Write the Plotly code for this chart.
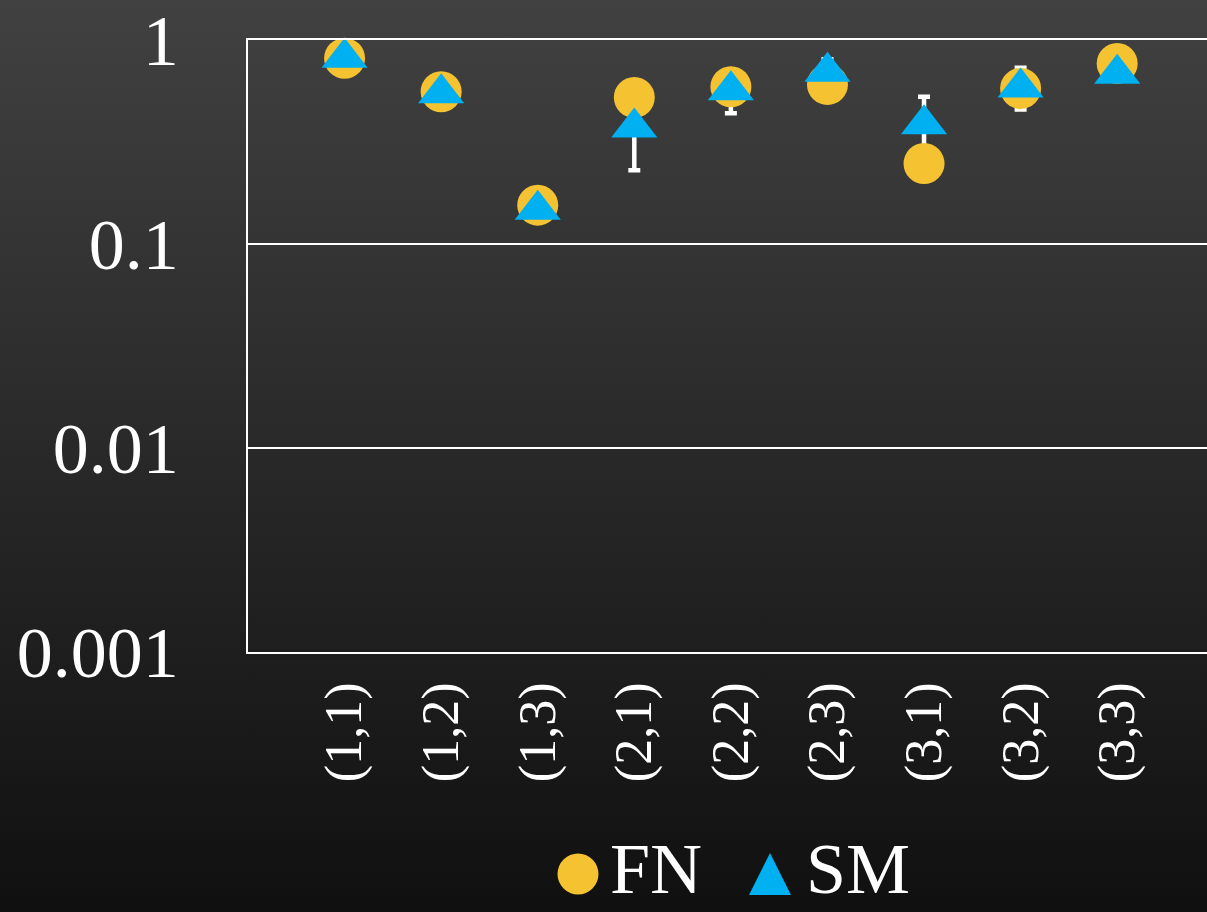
import base64
import plotly.graph_objects as go

# Category pairs and measured values
categories = ["(1,1)", "(1,2)", "(1,3)", "(2,1)", "(2,2)", "(2,3)", "(3,1)", "(3,2)", "(3,3)"]
fn_values = [0.813, 0.558, 0.155, 0.523, 0.590, 0.606, 0.248, 0.579, 0.768]
sm_values = [0.818, 0.548, 0.147, 0.372, 0.567, 0.698, 0.386, 0.585, 0.684]
sm_err_plus = [0, 0, 0, 0.142, 0.130, 0.106, 0.141, 0.146, 0]
sm_err_minus = [0, 0, 0, 0.142, 0.130, 0.106, 0.141, 0.128, 0]
y_tickvals = [1, 0.1, 0.01, 0.001]
y_ticktext = ["1", "0.1", "0.01", "0.001"]

W, H = 1207, 912
ML, MR, MT, MB = 248, 0, 40, 260
PW, PH = W - ML - MR, H - MT - MB

FN_COLOR = "#F5C232"
SM_COLOR = "#00B0F0"
FONT = "Liberation Serif, Times New Roman, serif"

fig = go.Figure()

# error bars sit beneath both marker series
fig.add_trace(go.Scatter(
    x=categories, y=sm_values, mode="markers",
    marker=dict(size=1, opacity=0),
    error_y=dict(type="data", symmetric=False, array=sm_err_plus,
                 arrayminus=sm_err_minus, color="white", thickness=4.5, width=6),
    showlegend=False, hoverinfo="skip", cliponaxis=False,
))
fig.add_trace(go.Scatter(
    x=categories, y=fn_values, mode="markers", name="FN",
    marker=dict(symbol="circle", size=41, color=FN_COLOR, line=dict(width=0)),
    showlegend=False, cliponaxis=False,
))
fig.add_trace(go.Scatter(
    x=categories, y=sm_values, mode="markers", name="SM",
    marker=dict(symbol="triangle-up", size=40, color=SM_COLOR, line=dict(width=0)),
    showlegend=False, cliponaxis=False,
))

# dark vertical gradient behind everything
svg = (
    f'<svg xmlns="http://www.w3.org/2000/svg" width="{W}" height="{H}">'
    '<defs><linearGradient id="g" x1="0" y1="0" x2="0" y2="1">'
    '<stop offset="0" stop-color="#414141"/><stop offset="1" stop-color="#101010"/>'
    '</linearGradient></defs>'
    f'<rect width="{W}" height="{H}" fill="url(#g)"/></svg>'
)
bg_src = "data:image/svg+xml;base64," + base64.b64encode(svg.encode()).decode()


def px_x(px):
    return (px - ML) / PW


def px_y(py):
    return (H - MB - py) / PH


# legend drawn by hand so its symbols keep the marker size
leg_cy = 874
shapes = [
    dict(type="circle", xref="paper", yref="paper",
         x0=px_x(557.5), x1=px_x(598.5), y0=px_y(leg_cy + 20.5), y1=px_y(leg_cy - 20.5),
         fillcolor=FN_COLOR, line=dict(width=0)),
    dict(type="path", xref="paper", yref="paper",
         path=(f"M {px_x(749)},{px_y(leg_cy + 21)} L {px_x(791)},{px_y(leg_cy + 21)} "
               f"L {px_x(770)},{px_y(leg_cy - 21)} Z"),
         fillcolor=SM_COLOR, line=dict(width=0)),
]
annotations = [
    dict(text="FN", xref="paper", yref="paper", x=px_x(608), y=px_y(911),
         xanchor="left", yanchor="bottom", showarrow=False,
         font=dict(family=FONT, size=72, color="white")),
    dict(text="SM", xref="paper", yref="paper", x=px_x(804), y=px_y(911),
         xanchor="left", yanchor="bottom", showarrow=False,
         font=dict(family=FONT, size=72, color="white")),
]

fig.update_layout(
    width=W, height=H,
    margin=dict(l=ML, r=MR, t=MT, b=MB, pad=0),
    paper_bgcolor="rgba(0,0,0,0)",
    plot_bgcolor="rgba(0,0,0,0)",
    showlegend=False,
    shapes=shapes,
    annotations=annotations,
    images=[dict(source=bg_src, xref="paper", yref="paper",
                 x=-ML / PW, y=1 + MT / PH, sizex=W / PW, sizey=H / PH,
                 xanchor="left", yanchor="top", sizing="stretch", layer="below")],
    xaxis=dict(
        type="category", categoryorder="array", categoryarray=categories,
        range=[-1, 8.93], showgrid=False, zeroline=False,
        showline=True, mirror=True, linecolor="white", linewidth=1.5,
        ticks="outside", ticklen=8, tickcolor="rgba(0,0,0,0)",
        tickangle=-90, tickfont=dict(family=FONT, size=52, color="white"),
    ),
    yaxis=dict(
        type="log", range=[-3, 0],
        tickvals=y_tickvals, ticktext=y_ticktext,
        showgrid=True, gridcolor="white", gridwidth=1.5, zeroline=False,
        showline=True, linecolor="white", linewidth=1.5,
        ticks="outside", ticklen=53, tickcolor="rgba(0,0,0,0)",
        tickfont=dict(family=FONT, size=72, color="white"),
    ),
)

fig.write_html("out.html")
